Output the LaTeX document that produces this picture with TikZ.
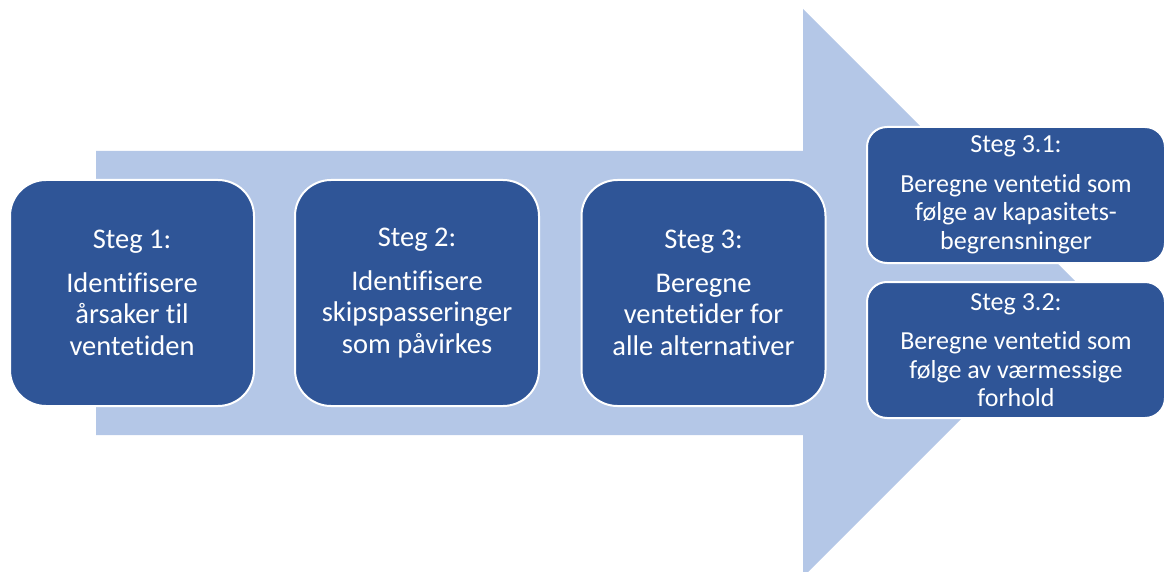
\documentclass[tikz,border=0pt]{standalone}
\usepackage{fontspec}
\setmainfont[Ligatures=NoCommon]{Carlito}
\definecolor{boxblue}{HTML}{2F5597}
\definecolor{arrowblue}{HTML}{B4C7E7}
\tikzset{
  bigbox/.style={draw=white, line width=2pt, fill=boxblue, text=white, rounded corners=36pt,
    minimum width=244pt, minimum height=226pt, align=center, inner sep=0pt,
    font=\fontsize{28.5}{31.5}\selectfont},
  smallbox/.style={draw=white, line width=2pt, fill=boxblue, text=white, rounded corners=20pt,
    minimum width=298pt, minimum height=136pt, align=center, inner sep=0pt,
    font=\fontsize{26}{28.5}\selectfont},
}
\begin{document}
\begin{tikzpicture}[x=1pt,y=-1pt]
\useasboundingbox (0,0) rectangle (1166,572);
\clip (0,0) rectangle (1166,572);
\fill[arrowblue] (96,151) -- (803,151) -- (803,9) -- (1087,293) -- (803,577) -- (803,435) -- (96,435) -- cycle;
\node[bigbox] (s1) at (132,293) {Steg 1:\\[12pt]Identifisere\\årsaker til\\ventetiden};
\node[bigbox] (s2) at (417,293) {Steg 2:\\[12pt]Identifisere\\skipspasseringer\\som påvirkes};
\node[bigbox] (s3) at (703.5,293) {Steg 3:\\[12pt]Beregne\\ventetider for\\alle alternativer};
\node[smallbox] (s31) at (1016,195) {Steg 3.1:\\[11pt]Beregne ventetid som\\følge av kapasitets-\\begrensninger};
\node[smallbox] (s32) at (1016,350) {Steg 3.2:\\[11pt]Beregne ventetid som\\følge av værmessige\\forhold};
\end{tikzpicture}
\end{document}
